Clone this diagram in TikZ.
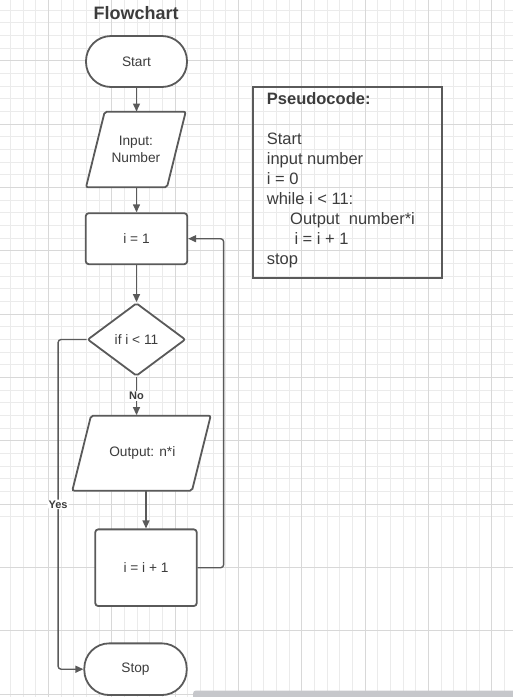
\documentclass[tikz,border=0pt]{standalone}
\usepackage{fontspec}
\setmainfont{Liberation Sans}
\usetikzlibrary{positioning,shapes.geometric,arrows.meta}
\definecolor{LineGray}{HTML}{5A5A5A}
\definecolor{TextGray}{HTML}{3C3C3C}
\definecolor{GridMinor}{HTML}{EBEBEB}
\definecolor{GridMajor}{HTML}{D8D8D8}
\definecolor{BarGray}{HTML}{C6C7CB}
\tikzset{
	box/.style={draw=LineGray,line width=1.8pt,fill=white,text=TextGray,
		font=\fontsize{13.7}{16.7}\selectfont,align=center,inner sep=0pt},
	term/.style={box,rounded corners=25pt,minimum width=101pt,minimum height=51pt},
	proc/.style={box,rounded corners=3pt,minimum width=101.5pt,minimum height=51pt},
	iobox/.style={draw=LineGray,line width=1.8pt,fill=white,rounded corners=2pt},
	iotext/.style={text=TextGray,font=\fontsize{13.7}{16.7}\selectfont,align=center,inner sep=0pt},
	dec/.style={box,diamond,rounded corners=2pt,minimum width=98pt,minimum height=73pt},
	arr/.style={draw=LineGray,line width=1.4pt,rounded corners=3pt,
		-{Triangle[length=8pt,width=7pt]}},
	lbl/.style={fill=white,text=TextGray,font=\fontsize{11}{13}\selectfont\bfseries,inner sep=1pt},
	frame/.style={draw=LineGray,line width=1.8pt,inner sep=0pt},
}

\begin{document}
\begin{tikzpicture}[x=1pt,y=-1pt]
	\useasboundingbox (0,0) rectangle (513,697);
	% grid
	\foreach \k in {0,...,40} {
		\draw[GridMinor,line width=0.8pt] (10.4+12.667*\k,0) -- (10.4+12.667*\k,697);
		\draw[GridMinor,line width=0.8pt] (0,10+12.667*\k) -- (513,10+12.667*\k);
	}
	\foreach \k in {0,...,10} {
		\draw[GridMajor,line width=1pt] (48.4+63.33*\k,0) -- (48.4+63.33*\k,697);
		\draw[GridMajor,line width=1pt] (0,60.7+63.33*\k) -- (513,60.7+63.33*\k);
	}
	
	\node[text=TextGray,font=\fontsize{18}{20}\selectfont\bfseries] (title) at (136.2,13.5) {Flowchart};
	
	% flowchart
	\node[term] (start) at (136.5,61.5) {Start};
	\draw[iobox] (86,187.3) -- (104.7,111.7) -- (185.7,111.7) -- (167,187.3) -- cycle;
	\node[iotext,minimum width=99.7pt,minimum height=75.6pt] (inp) at (135.9,149.5) {Input:\\Number};
	\node[proc] (ione) at (136.5,238.7) {i = 1};
	\node[dec] (cond) at (136.5,339.5) {if i < 11};
	\draw[iobox] (72.3,490.7) -- (91,415.7) -- (210.7,415.7) -- (192,490.7) -- cycle;
	\node[iotext,minimum width=138.4pt,minimum height=75pt] (out) at (142.3,452.8) {Output: n*i};
	\node[proc,minimum height=76.7pt] (inc) at (146,567.7) {i = i + 1};
	\node[term,minimum width=102.4pt,minimum height=51.7pt] (stop) at (135.5,669.2) {Stop};
	
	\draw[arr] (start.south) -- (start.south |- inp.north);
	\draw[arr] (inp.south -| ione.north) -- (ione.north);
	\draw[arr] (ione.south) -- (cond.north);
	\draw[arr] (cond.south) -- (cond.south |- out.north) node[lbl,pos=0.5] {No};
	\draw[arr] (inc.north |- out.south) -- (inc.north);
	\draw[arr] (cond.west) -- ++(-28.5,0) |- (stop.west) node[lbl,pos=0.25] {Yes};
	\draw[arr] (inc.east) -- ++(26,0) |- (ione.east);
	
	% pseudocode
	\node[frame,anchor=north west,minimum width=189.3pt,minimum height=191.6pt] (pcbox) at (251.7,85.7) {};
	\node[anchor=north west,inner sep=0pt,align=left,text=TextGray,font=\fontsize{16.5}{20}\selectfont]
		(pctext) at ([shift={(15,6.8)}]pcbox.north west) {\textbf{Pseudocode:}\\[20pt]
		Start\\
		input number\\
		i = 0\\
		while i < 11:\\
		\hspace*{23.3pt}Output\ \ number*i\\
		\hspace*{27.6pt}i = i + 1\\
		stop};
	
	% scroll bar
	\fill[BarGray,rounded corners=3pt] (193,690.5) rectangle (530,705);
\end{tikzpicture}
\end{document}
